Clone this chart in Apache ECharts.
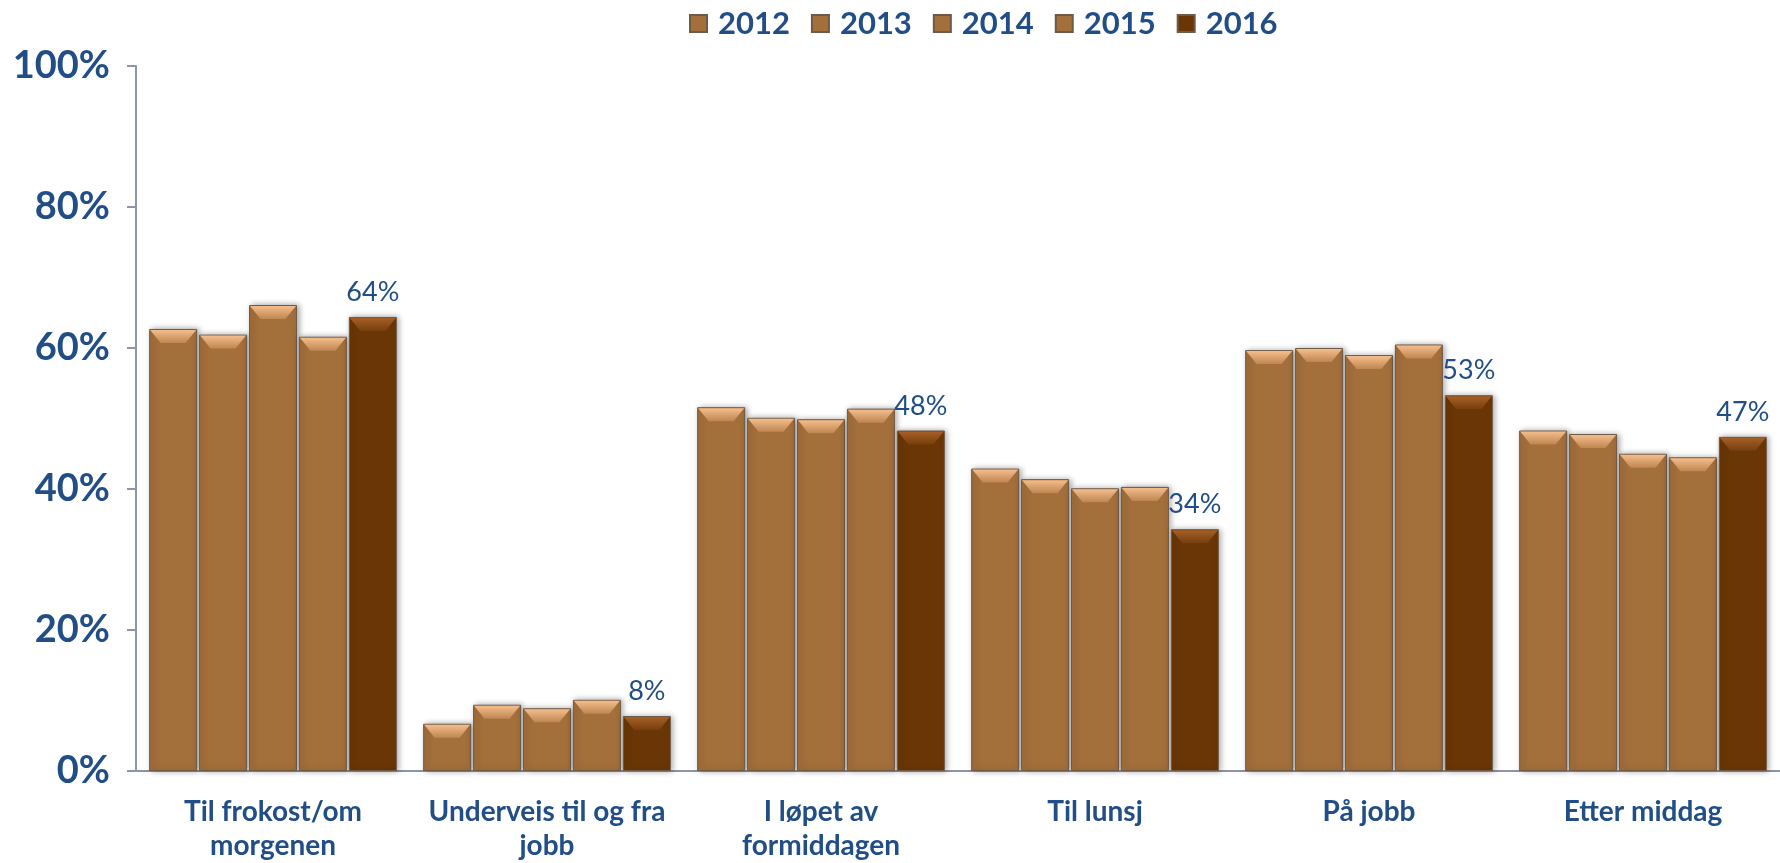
<!DOCTYPE html>
<html>
<head>
<meta charset="utf-8">
<script src="https://cdn.jsdelivr.net/npm/echarts@6/dist/echarts.min.js"></script>
<style>
  html, body { margin: 0; padding: 0; background: #fff; }
  #chart { width: 1780px; height: 863px; }
</style>
</head>
<body>
<div id="chart"></div>
<script>
// kategorier og verdier (prosent)
const categories = ['Til frokost/om\nmorgenen', 'Underveis til og fra\njobb', 'I løpet av\nformiddagen', 'Til lunsj', 'På jobb', 'Etter middag']
const years = ['2012', '2013', '2014', '2015', '2016']
const v2012 = [62.7, 6.7, 51.6, 42.9, 59.7, 48.3]
const v2013 = [61.9, 9.4, 50.1, 41.4, 60.0, 47.8]
const v2014 = [66.1, 8.9, 49.9, 40.1, 59.0, 45.0]
const v2015 = [61.6, 10.1, 51.4, 40.3, 60.5, 44.5]
const v2016 = [64.4, 7.8, 48.3, 34.3, 53.3, 47.4]
const yTicks = [0, 20, 40, 60, 80, 100]

const allValues = [v2012, v2013, v2014, v2015, v2016]
const blue = '#214e86'
const font = 'Lato'

const chart = echarts.init(document.getElementById('chart'))

const series = []
allValues.forEach((vals, i) => {
  const last = i === allValues.length - 1
  series.push({
    name: years[i],
    type: 'bar',
    data: vals,
    barWidth: 48,
    barGap: '4%',
    itemStyle: {
      color: last ? '#6a3605' : '#a36f3b',
      borderColor: '#6d5a48',
      borderWidth: 1,
      shadowBlur: 6,
      shadowColor: 'rgba(0,0,0,0.35)',
      shadowOffsetX: 2
    },
    label: {
      show: last,
      position: 'top',
      distance: 11,
      color: blue,
      fontFamily: font,
      fontSize: 27,
      formatter: p => Math.round(p.value) + '%'
    },
    z: 2
  })
  // skrå kant øverst på søylene
  series.push({
    name: years[i] + '-kant',
    type: 'pictorialBar',
    data: vals,
    barWidth: 48,
    barGap: '4%',
    symbol: 'path://M0,0 L48,0 L37,13 L11,13 Z',
    symbolSize: [46, 13],
    symbolPosition: 'end',
    symbolOffset: [0, 1],
    itemStyle: {
      color: new echarts.graphic.LinearGradient(0, 0, 0, 1, last
        ? [{ offset: 0, color: '#a65f26' }, { offset: 1, color: '#763f0e' }]
        : [{ offset: 0, color: '#f4bd8c' }, { offset: 1, color: '#bf8651' }])
    },
    silent: true,
    z: 3
  })
})

chart.setOption({
  animation: false,
  textStyle: { fontFamily: font },
  legend: {
    data: years,
    left: 684,
    top: 3,
    icon: 'rect',
    itemWidth: 17,
    itemHeight: 17,
    itemGap: 21,
    textStyle: {
      color: blue,
      fontSize: 31,
      fontWeight: 'bold',
      fontFamily: font,
      padding: [0, 0, 0, 6]
    }
  },
  grid: {
    left: 136,
    right: -9,
    top: 66,
    bottom: 91,
    containLabel: false
  },
  xAxis: {
    type: 'category',
    data: categories,
    axisLine: { lineStyle: { color: '#8d94ab', width: 2 } },
    axisTick: { length: 9, lineStyle: { color: '#8d94ab', width: 2 } },
    axisLabel: {
      color: blue,
      fontSize: 28,
      fontWeight: 'bold',
      fontFamily: font,
      lineHeight: 34,
      margin: 24,
      interval: 0
    }
  },
  yAxis: {
    type: 'value',
    min: yTicks[0],
    max: yTicks[yTicks.length - 1],
    interval: 20,
    axisLine: { show: true, lineStyle: { color: '#8d94ab', width: 2 } },
    axisTick: { show: true, length: 9, lineStyle: { color: '#8d94ab', width: 2 } },
    splitLine: { show: false },
    axisLabel: {
      color: blue,
      fontSize: 38,
      fontWeight: 'bold',
      fontFamily: font,
      margin: 26,
      formatter: '{value}%'
    }
  },
  series: series
})
</script>
</body>
</html>
